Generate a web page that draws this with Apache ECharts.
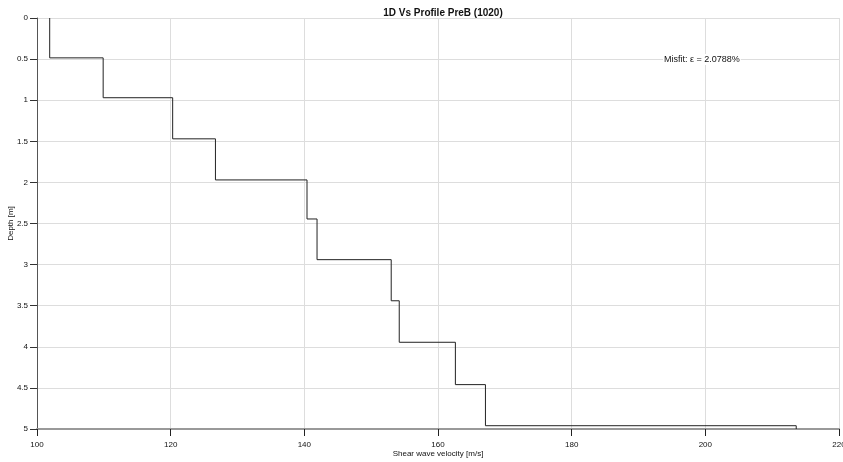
<!DOCTYPE html>
<html>
<head>
<meta charset="utf-8">
<title>1D Vs Profile PreB (1020)</title>
<script src="https://cdn.jsdelivr.net/npm/echarts@6/dist/echarts.min.js"></script>
<style>
  html, body { margin: 0; padding: 0; background: #fff; }
  #chart { width: 843px; height: 462px; }
</style>
</head>
<body>
<div id="chart"></div>
<script>
// layer velocities [m/s]
const velocities = [101.9, 109.9, 120.3, 126.7, 140.4, 141.9, 153.0, 154.2, 162.6, 167.1, 213.6];
// layer boundaries [m], top of first layer to bottom of last
const depths = [0, 0.485, 0.97, 1.47, 1.97, 2.445, 2.94, 3.44, 3.945, 4.46, 4.96, 5.0];
const misfitText = 'Misfit: \u03b5 = 2.0788%';

// stepped profile: each layer is a vertical segment at its velocity
let profile = [];
for (let i = 0; i < velocities.length; i++) {
  profile.push([velocities[i], depths[i]]);
  profile.push([velocities[i], depths[i + 1]]);
}

const font = 'Liberation Sans, Arial, sans-serif';

let option = {
  animation: false,
  title: {
    text: '1D Vs Profile PreB (1020)',
    left: 438,
    textAlign: 'center',
    top: 3,
    textStyle: { fontSize: 10, fontWeight: 'bold', color: '#111', fontFamily: font },
  },
  grid: { left: 37, right: 4, top: 18, bottom: 33, outerBoundsMode: 'none', containLabel: false },
  xAxis: {
    type: 'value',
    min: 100,
    max: 220,
    interval: 20,
    name: 'Shear wave velocity [m/s]',
    nameLocation: 'middle',
    nameGap: 21,
    nameMoveOverlap: false,
    nameTextStyle: { fontSize: 8, color: '#111', fontFamily: font },
    axisLine: { onZero: false, lineStyle: { color: '#999', width: 2 } },
    axisTick: { show: true, length: 7, lineStyle: { color: '#222' } },
    axisLabel: { fontSize: 8, color: '#111', margin: 12, fontFamily: font },
    splitLine: { show: true, lineStyle: { color: '#ddd', width: 1 } },
  },
  yAxis: {
    type: 'value',
    inverse: true,
    min: 0,
    max: 5,
    interval: 0.5,
    name: 'Depth [m]',
    nameLocation: 'middle',
    nameGap: 22,
    nameRotate: 90,
    nameMoveOverlap: false,
    nameTextStyle: { fontSize: 8, color: '#111', fontFamily: font },
    axisLine: { show: true, onZero: false, lineStyle: { color: '#555', width: 1 } },
    axisTick: { show: true, length: 7, lineStyle: { color: '#333' } },
    axisLabel: { fontSize: 8, color: '#111', margin: 9, fontFamily: font },
    splitLine: { show: true, lineStyle: { color: '#ddd', width: 1 } },
  },
  graphic: [
    {
      type: 'text',
      left: 663,
      top: 54,
      z: 10,
      style: {
        text: misfitText,
        fontSize: 9,
        fill: '#111',
        fontFamily: font,
        backgroundColor: '#fff',
        padding: [1, 1],
      },
    },
  ],
  series: [
    {
      type: 'line',
      data: profile,
      symbol: 'none',
      lineStyle: { color: '#222', width: 1 },
    },
  ],
};

let myChart = echarts.init(document.getElementById('chart'), null, { renderer: 'canvas' });
myChart.setOption(option);
</script>
</body>
</html>
